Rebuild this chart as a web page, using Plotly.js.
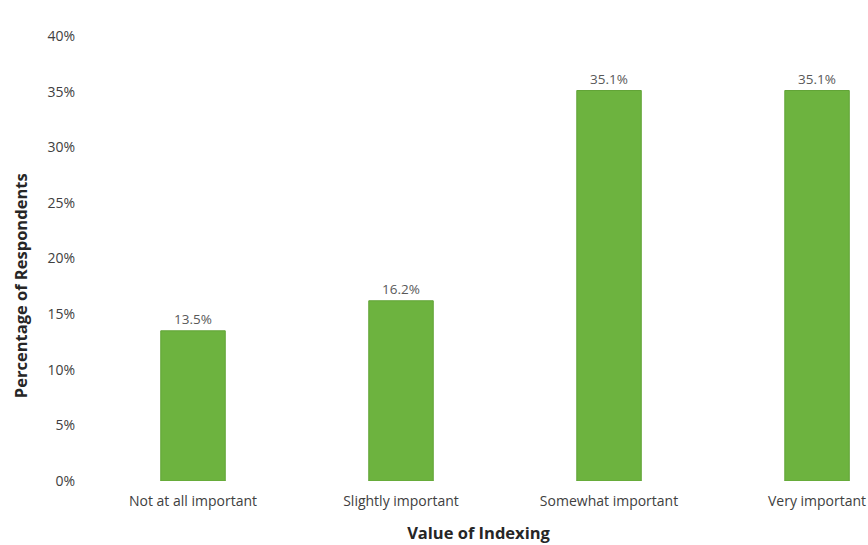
<!DOCTYPE html>
<html><head><meta charset="utf-8">
<script src="https://cdn.plot.ly/plotly-3.0.1.min.js"></script>
<style>html,body{margin:0;padding:0;background:#fff}#chart{width:868px;height:545px}</style>
</head><body><div id="chart"></div>
<script>
const categories = ["Not at all important", "Slightly important", "Somewhat important", "Very important"];
const percentages = [13.5, 16.2, 35.1, 35.1];
const yTickValues = [0, 5, 10, 15, 20, 25, 30, 35, 40];
const yTickLabels = ["0%", "5%", "10%", "15%", "20%", "25%", "30%", "35%", "40%"];
const xTitle = "Value of Indexing";
const yTitle = "Percentage of Respondents";

const font = "'Open Sans', sans-serif";
Plotly.newPlot("chart", [{
  type: "bar",
  x: categories,
  y: percentages,
  marker: {color: "#6db33f", line: {color: "#62a437", width: 1}},
  texttemplate: "%{y:.1f}%",
  textposition: "outside",
  cliponaxis: false,
  textfont: {family: font, size: 13.5, color: "#595959"},
  hoverinfo: "skip"
}], {
  width: 868, height: 545,
  margin: {l: 89, r: 0, t: 36, b: 64},
  paper_bgcolor: "#ffffff", plot_bgcolor: "#ffffff",
  bargap: 0.69,
  showlegend: false,
  xaxis: {
    type: "category",
    range: [-0.5, 3.245],
    showgrid: false, zeroline: false, showline: false,
    ticks: "", ticklabelstandoff: 10,
    tickfont: {family: font, size: 14, color: "#404040"},
    title: {text: "<b>" + xTitle + "</b>", standoff: 18, font: {family: font, size: 16.5, color: "#262626"}}
  },
  yaxis: {
    range: [0, 40],
    tickvals: yTickValues, ticktext: yTickLabels,
    showgrid: false, zeroline: false, showline: false,
    ticks: "", ticklabelstandoff: 13,
    tickfont: {family: font, size: 14, color: "#404040"}
  },
  annotations: [{
    text: "<b>" + yTitle + "</b>",
    xref: "paper", yref: "paper",
    x: -0.0886, y: 0.44,
    xanchor: "center", yanchor: "middle",
    textangle: -90, showarrow: false,
    font: {family: font, size: 16.5, color: "#262626"}
  }]
}, {displayModeBar: false, staticPlot: true});
</script></body></html>
